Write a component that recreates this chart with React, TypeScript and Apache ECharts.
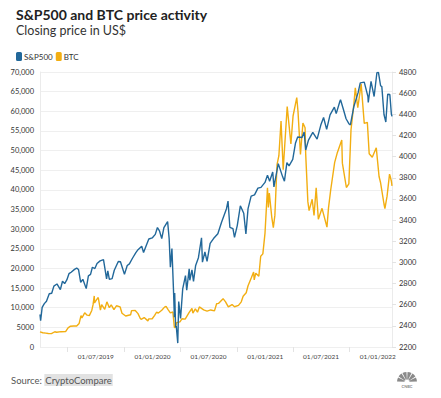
import React, { useEffect, useRef } from "react";
import * as echarts from "echarts";

const TITLE = "S&P500 and BTC price activity";
const SUBTITLE = "Closing price in US$";
const SERIES_NAMES = ["S&P500", "BTC"];
const START_DATE = "2019-01-01";
const END_DATE = "2022-02-16";

const BTC_TICKS = { min: 0, max: 70000, interval: 5000 };
const SPX_TICKS = { min: 2200, max: 4800, interval: 200 };

const SPX_DATES = [
  "2019-01-01","2019-01-03","2019-01-08","2019-01-15","2019-01-22","2019-01-31","2019-02-08","2019-02-15","2019-02-25","2019-03-08",
  "2019-03-15","2019-03-22","2019-03-29","2019-04-05","2019-04-12","2019-04-23","2019-04-30","2019-05-06","2019-05-13","2019-05-20",
  "2019-05-31","2019-06-07","2019-06-14","2019-06-20","2019-06-28","2019-07-05","2019-07-15","2019-07-26","2019-08-05","2019-08-09",
  "2019-08-14","2019-08-23","2019-08-30","2019-09-12","2019-09-19","2019-10-02","2019-10-11","2019-10-18","2019-10-28","2019-11-08",
  "2019-11-15","2019-11-27","2019-12-03","2019-12-13","2019-12-20","2019-12-31","2020-01-10","2020-01-17","2020-01-24","2020-01-31",
  "2020-02-07","2020-02-19","2020-02-24","2020-02-28","2020-03-04","2020-03-09","2020-03-12","2020-03-13","2020-03-16","2020-03-18",
  "2020-03-23","2020-03-26","2020-04-01","2020-04-08","2020-04-17","2020-04-21","2020-04-29","2020-05-01","2020-05-08","2020-05-13",
  "2020-05-20","2020-05-29","2020-06-08","2020-06-11","2020-06-19","2020-06-26","2020-07-06","2020-07-17","2020-07-31","2020-08-12",
  "2020-08-28","2020-09-02","2020-09-08","2020-09-18","2020-09-23","2020-10-02","2020-10-12","2020-10-23","2020-10-30","2020-11-06",
  "2020-11-16","2020-11-27","2020-12-08","2020-12-18","2020-12-31","2021-01-08","2021-01-15","2021-01-25","2021-01-29","2021-02-12",
  "2021-02-26","2021-03-04","2021-03-12","2021-03-19","2021-03-31","2021-04-09","2021-04-16","2021-04-30","2021-05-07","2021-05-12",
  "2021-05-21","2021-06-04","2021-06-18","2021-06-30","2021-07-09","2021-07-19","2021-07-30","2021-08-13","2021-08-19","2021-08-31",
  "2021-09-02","2021-09-10","2021-09-20","2021-09-30","2021-10-04","2021-10-15","2021-10-29","2021-11-05","2021-11-18","2021-11-30",
  "2021-12-01","2021-12-10","2021-12-20","2021-12-29","2022-01-03","2022-01-10","2022-01-14","2022-01-21","2022-01-27","2022-02-02",
  "2022-02-09","2022-02-14","2022-02-16"
];
const SPX_VALUES = [
  2507,2448,2574,2610,2633,2704,2708,2776,2796,2743,
  2822,2800,2834,2893,2907,2934,2946,2932,2812,2840,
  2752,2873,2887,2954,2942,2990,3014,3026,2844,2919,
  2840,2847,2926,3009,3006,2887,2970,2986,3039,3093,
  3120,3153,3093,3168,3221,3231,3265,3330,3295,3225,
  3328,3386,3226,2954,3130,2747,2481,2711,2386,2398,
  2237,2630,2470,2750,2875,2737,2939,2831,2930,2820,
  2971,3044,3232,3002,3098,3009,3180,3225,3271,3380,
  3508,3580,3332,3319,3237,3348,3535,3465,3270,3509,
  3627,3638,3702,3709,3756,3825,3768,3855,3714,3934,
  3811,3768,3943,3913,3973,4129,4185,4181,4232,4063,
  4156,4230,4166,4298,4370,4258,4395,4468,4406,4523,
  4537,4459,4358,4308,4300,4471,4605,4697,4704,4567,
  4513,4712,4568,4793,4796,4670,4662,4398,4327,4589,
  4587,4401,4380
];

const BTC_DATES = [
  "2019-01-01","2019-01-10","2019-01-20","2019-01-28","2019-02-07","2019-02-18","2019-02-24","2019-03-10","2019-03-25","2019-04-02",
  "2019-04-10","2019-04-20","2019-04-30","2019-05-08","2019-05-14","2019-05-17","2019-05-26","2019-06-03","2019-06-10","2019-06-18",
  "2019-06-22","2019-06-26","2019-06-27","2019-07-03","2019-07-09","2019-07-16","2019-07-20","2019-07-30","2019-08-06","2019-08-14",
  "2019-08-20","2019-08-29","2019-09-06","2019-09-18","2019-09-24","2019-10-06","2019-10-22","2019-10-25","2019-11-06","2019-11-15",
  "2019-11-22","2019-11-25","2019-12-05","2019-12-17","2019-12-20","2019-12-31","2020-01-08","2020-01-14","2020-01-20","2020-01-31",
  "2020-02-09","2020-02-14","2020-02-20","2020-02-28","2020-03-07","2020-03-12","2020-03-16","2020-03-19","2020-03-30","2020-04-06",
  "2020-04-16","2020-04-29","2020-05-08","2020-05-11","2020-05-19","2020-05-26","2020-06-01","2020-06-15","2020-06-26","2020-07-08",
  "2020-07-20","2020-07-27","2020-08-02","2020-08-17","2020-08-25","2020-09-03","2020-09-15","2020-09-23","2020-10-06","2020-10-15",
  "2020-10-21","2020-10-31","2020-11-06","2020-11-17","2020-11-24","2020-11-26","2020-12-01","2020-12-11","2020-12-17","2020-12-24",
  "2020-12-31","2021-01-08","2021-01-11","2021-01-14","2021-01-22","2021-01-27","2021-02-01","2021-02-08","2021-02-14","2021-02-21",
  "2021-02-28","2021-03-13","2021-03-25","2021-04-01","2021-04-13","2021-04-17","2021-04-25","2021-05-03","2021-05-10","2021-05-12",
  "2021-05-19","2021-05-23","2021-06-02","2021-06-08","2021-06-15","2021-06-22","2021-07-04","2021-07-20","2021-07-25","2021-08-01",
  "2021-08-14","2021-08-22","2021-09-06","2021-09-08","2021-09-21","2021-09-29","2021-10-06","2021-10-15","2021-10-20","2021-10-28",
  "2021-11-08","2021-11-10","2021-11-18","2021-11-28","2021-12-04","2021-12-14","2021-12-27","2022-01-05","2022-01-10","2022-01-21",
  "2022-01-24","2022-01-31","2022-02-08","2022-02-10","2022-02-14","2022-02-16"
];
const BTC_VALUES = [
  3843,3620,3535,3440,3400,3880,3750,3900,3920,4880,
  5300,5330,5350,6000,8000,7370,8700,8100,8000,9300,
  10700,13000,11200,12000,12600,9400,10800,9600,11500,10000,
  10700,9500,10500,10200,8600,7900,8200,9250,9300,8500,
  7300,7050,7500,6650,7150,7200,8050,8850,8650,9350,
  10150,10350,9600,8700,8900,4970,5000,6200,6400,7200,
  7100,8800,9800,8600,9700,8850,10200,9450,9150,9430,
  9200,11000,11100,12300,11500,10200,10800,10240,10600,11500,
  12900,13800,15600,17700,19100,17100,18800,18000,23100,23700,
  29000,40500,35500,39200,33000,30400,33500,46400,48700,57500,
  45100,61200,51700,58800,63500,60000,49000,57000,55800,49100,
  37000,34700,37600,33500,40500,32500,35300,30500,35400,39900,
  47000,49300,52700,46800,40600,41500,55300,61600,66000,60900,
  67000,64900,56900,57200,49200,48300,50700,43400,41800,36400,
  35200,38400,44000,43500,42200,41000
];

const SOURCE_LABEL = "Source: ";
const SOURCE_NAME = "CryptoCompare";

const BLUE = "#22689a";
const YELLOW = "#f2ae12";
const FONT = "Lato, 'Noto Sans', sans-serif";

function buildDays(start: string, end: string): string[] {
  const out: string[] = [];
  const d = new Date(start + "T00:00:00Z");
  const e = new Date(end + "T00:00:00Z");
  while (d.getTime() <= e.getTime()) {
    out.push(d.toISOString().slice(0, 10));
    d.setUTCDate(d.getUTCDate() + 1);
  }
  return out;
}

export default function App() {
  const ref = useRef<HTMLDivElement>(null);
  useEffect(() => {
    if (!ref.current) return;
    document.body.style.margin = "0";
    const chart = echarts.init(ref.current, undefined, { renderer: "svg" });
    const days = buildDays(START_DATE, END_DATE);
    const spx = SPX_DATES.map((d, i) => [d, SPX_VALUES[i]]);
    const btc = BTC_DATES.map((d, i) => [d, BTC_VALUES[i]]);
    const feathers = [0, 1, 2, 3, 4, 5].map((i) => {
      const step = 180 / 6;
      const a0 = Math.PI + (i * step + 3) * (Math.PI / 180);
      const a1 = Math.PI + ((i + 1) * step - 3) * (Math.PI / 180);
      return {
        type: "sector",
        shape: { cx: 407, cy: 382, r: 10, r0: 2.5, startAngle: a0, endAngle: a1 },
        style: { fill: "#8a8a8a" },
      };
    });
    chart.setOption({
      animation: false,
      backgroundColor: "#ffffff",
      textStyle: { fontFamily: FONT },
      title: {
        text: TITLE,
        subtext: SUBTITLE,
        left: 11,
        top: 2,
        itemGap: 3,
        textStyle: { fontFamily: FONT, fontSize: 14, fontWeight: "bold", color: "#222" },
        subtextStyle: { fontFamily: FONT, fontSize: 12.5, color: "#333" },
      },
      legend: {
        left: 11,
        top: 47,
        itemWidth: 6,
        itemHeight: 9,
        itemGap: 3,
        icon: "roundRect",
        selectedMode: false,
        data: SERIES_NAMES,
        textStyle: { fontFamily: FONT, fontSize: 8, color: "#333", padding: [0, 0, 0, -3] },
      },
      grid: { left: 40, right: 49, top: 72, bottom: 51, containLabel: false },
      xAxis: {
        type: "category",
        data: days,
        boundaryGap: false,
        axisLine: { show: false },
        axisTick: {
          show: true,
          length: 5,
          lineStyle: { color: "#e3e3e3" },
          interval: (_i: number, v: string) => v.endsWith("-04-01") || v.endsWith("-10-01"),
        },
        axisLabel: {
          fontFamily: FONT,
          fontSize: 6.5,
          color: "#444",
          margin: 6,
          interval: (_i: number, v: string) =>
            (v.endsWith("-01-01") || v.endsWith("-07-01")) && v !== START_DATE,
          formatter: (v: string) => {
            const [y, m, d] = v.split("-");
            return `${d}/${m}/${y}`;
          },
        },
        splitLine: { show: false },
      },
      yAxis: [
        {
          type: "value",
          position: "left",
          min: BTC_TICKS.min,
          max: BTC_TICKS.max,
          interval: BTC_TICKS.interval,
          axisLine: { show: true, lineStyle: { color: "#ebebeb" } },
          axisTick: { show: false },
          axisLabel: {
            fontFamily: FONT,
            fontSize: 7.5,
            color: "#333",
            margin: 6,
            formatter: (v: number) => (v >= 10000 ? v.toLocaleString("en-US") : String(v)),
          },
          splitLine: { show: true, lineStyle: { color: "#efefef", width: 1 } },
        },
        {
          type: "value",
          position: "right",
          min: SPX_TICKS.min,
          max: SPX_TICKS.max,
          interval: SPX_TICKS.interval,
          axisLine: { show: true, lineStyle: { color: "#ebebeb" } },
          axisTick: { show: true, length: 4, lineStyle: { color: "#e3e3e3" } },
          axisLabel: {
            fontFamily: FONT,
            fontSize: 7.5,
            color: "#333",
            margin: 7,
            formatter: (v: number) => String(v),
          },
          splitLine: { show: false },
        },
      ],
      series: [
        {
          name: SERIES_NAMES[0],
          type: "line",
          yAxisIndex: 1,
          data: spx,
          showSymbol: false,
          lineStyle: { color: BLUE, width: 1.4 },
          itemStyle: { color: BLUE },
          z: 3,
        },
        {
          name: SERIES_NAMES[1],
          type: "line",
          yAxisIndex: 0,
          data: btc,
          showSymbol: false,
          lineStyle: { color: YELLOW, width: 1.4 },
          itemStyle: { color: YELLOW },
          z: 2,
        },
      ],
      graphic: [
        {
          type: "text",
          left: 11,
          top: 374,
          style: {
            text: `${SOURCE_LABEL}{a|${SOURCE_NAME}}`,
            fontFamily: FONT,
            fontSize: 9.5,
            fill: "#555",
            rich: {
              a: { fontFamily: FONT, fontSize: 9.5, color: "#555", backgroundColor: "#e2e2e2", padding: [1, 1, 1, 1] },
            },
          },
        },
        ...feathers,
        {
          type: "text",
          x: 407,
          y: 386,
          style: { text: "CNBC", fontFamily: FONT, fontSize: 4, fontWeight: "bold", fill: "#8a8a8a", align: "center", verticalAlign: "middle" },
        },
      ],
    });
    return () => chart.dispose();
  }, []);
  return <div ref={ref} style={{ width: 441, height: 398, position: "absolute", left: 0, top: 0 }} />;
}
